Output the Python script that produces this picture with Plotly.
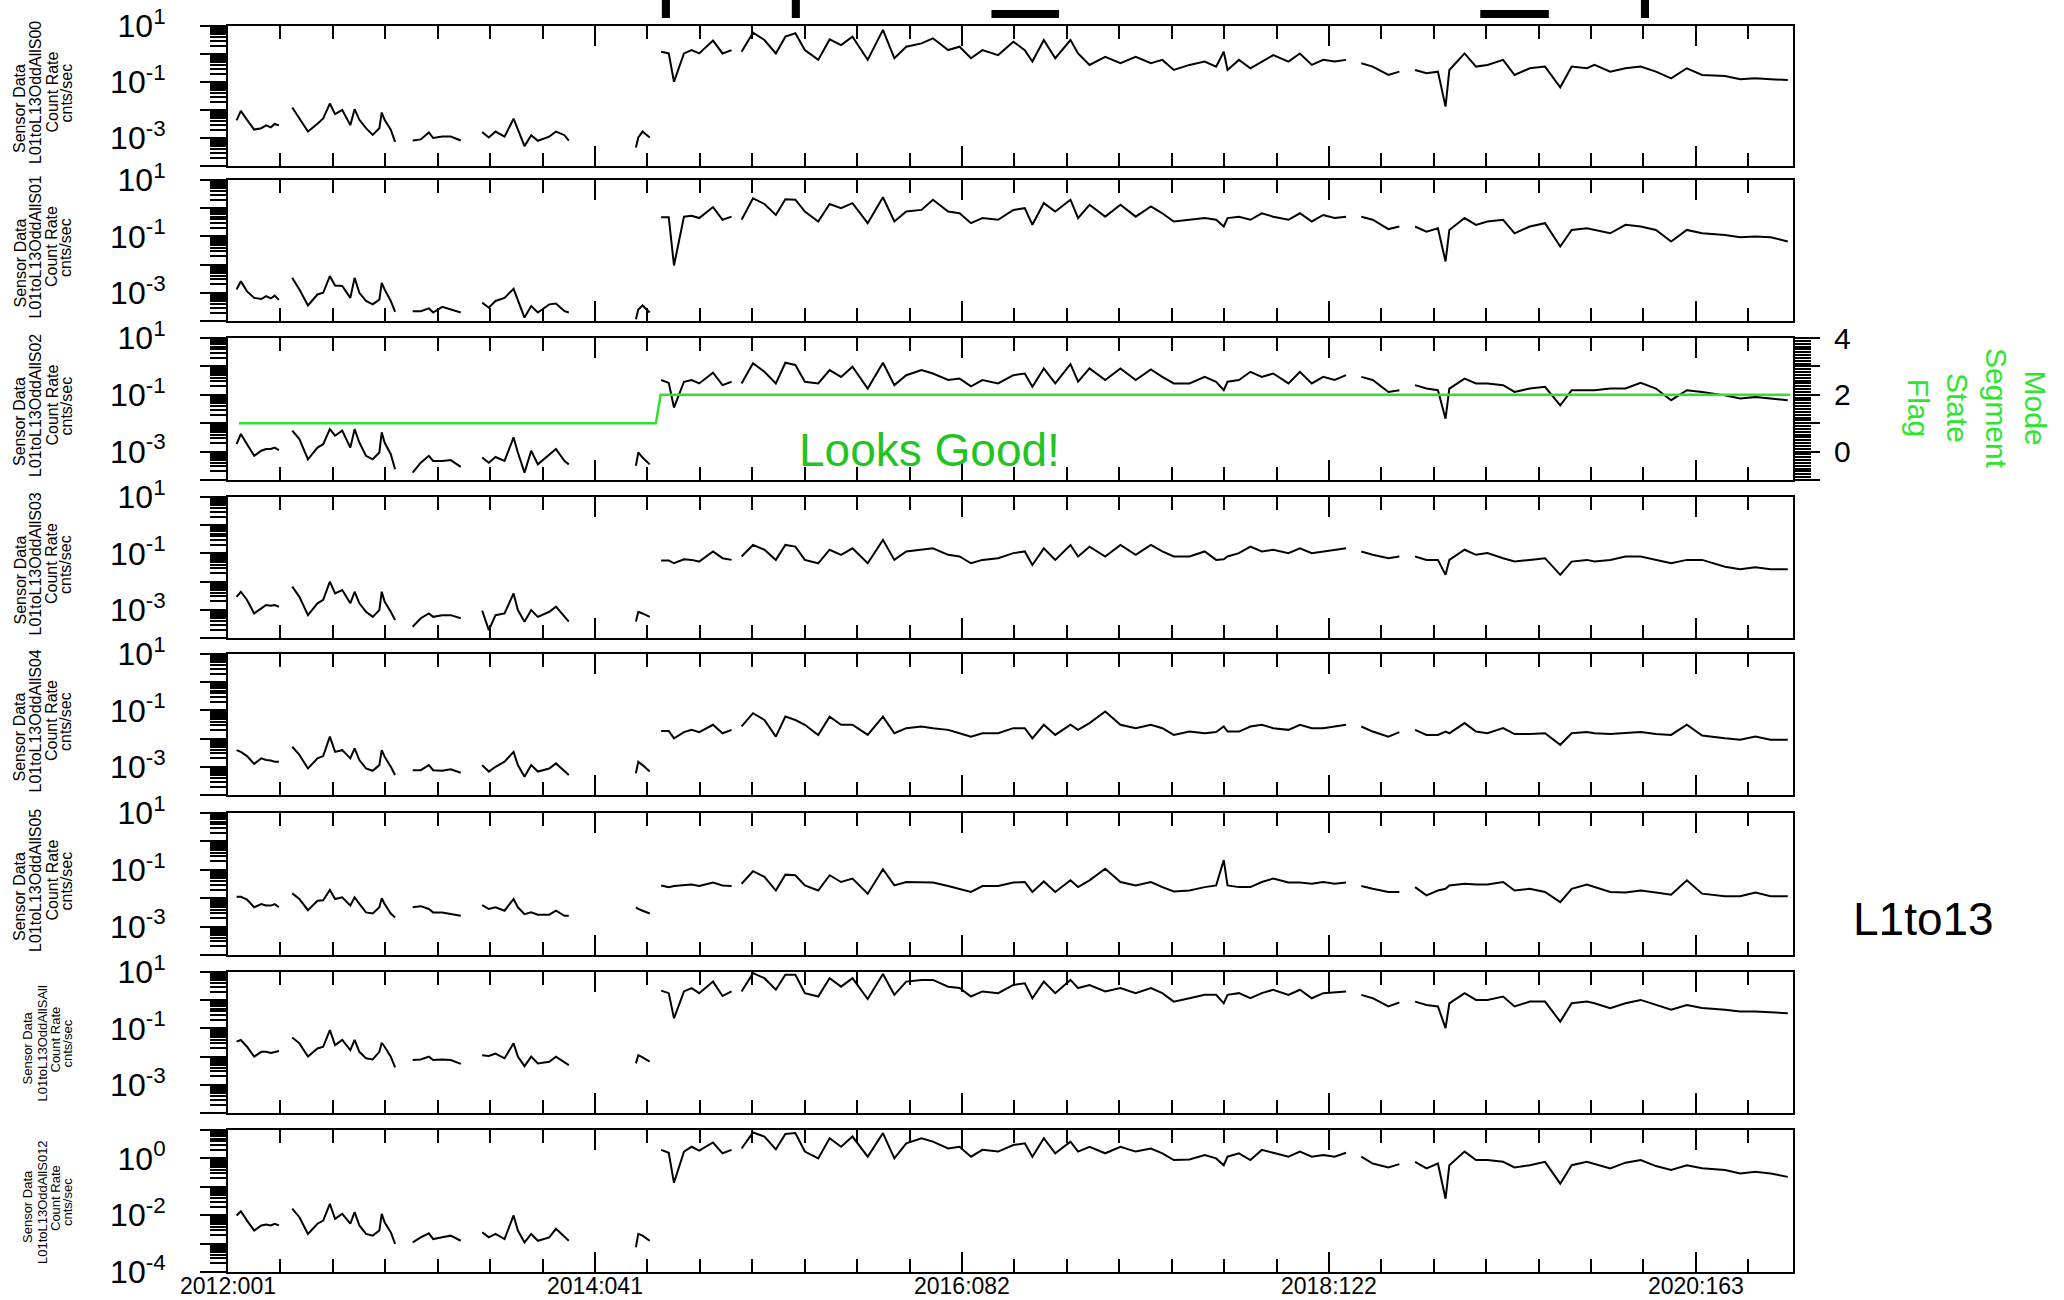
import plotly.graph_objects as go

# x positions: days since 2012-01-01 (2012:001); None in a series breaks the line
DAYS = [
    18, 27, 40, 55, 70, 80, 90, 98, 107, 120,
    135, 150, 168, 188, 200, 214, 225, 240, 257, 266, 276, 290, 304, 318, 323, 329, 342, 351, 370,
    388, 405, 422, 431, 450, 468, 489, 510,
    534, 548, 562, 581, 600, 609, 623, 637, 651, 675, 689, 707, 716, 790,
    857, 862, 871, 886, 898,
    910, 926, 937, 958, 974, 990, 1019, 1039, 1058, 1068,
    1079, 1103, 1127, 1151, 1171, 1192, 1212, 1240, 1264, 1288,
    1312, 1344, 1376, 1400, 1425, 1457, 1481, 1513, 1537, 1561,
    1585, 1618, 1650, 1674, 1690, 1714, 1738, 1770, 1786, 1810,
    1843, 1875, 1907, 1939, 1963, 1987, 2020, 2052, 2076, 2092,
    2100, 2124, 2148, 2172, 2196, 2228, 2252, 2277, 2301, 2325,
    2349, 2365,
    2381, 2405, 2438, 2461, 2478,
    2494, 2518, 2542, 2558, 2566, 2598, 2622, 2646, 2679, 2703,
    2735, 2767, 2799, 2823, 2855, 2871, 2904, 2936, 2968, 3000,
    3032, 3065, 3097, 3145, 3177, 3209, 3241, 3277,
]

# log10 of count rate (cnts/sec), one list per sensor panel
LOG_S00 = [
    -2.37, -2.03, -2.35, -2.70, -2.65, -2.55, -2.62, -2.50, -2.55, None,
    -1.91, -2.30, -2.77, -2.49, -2.30, -1.77, -2.15, -2.00, -2.54, -1.97, -2.35, -2.65, -2.89, -2.65, -2.09, -2.35, -2.70, -3.14, None,
    -3.09, -3.05, -2.80, -3.00, -2.95, -2.95, -3.09, None,
    -2.79, -2.98, -2.77, -2.95, -2.31, -2.72, -3.29, -2.90, -3.10, -2.95, -2.77, -2.90, -3.09, None,
    -3.34, -2.98, -2.77, -2.98, None,
    0.08, 0.02, -0.99, 0.02, 0.14, 0.02, 0.48, 0.02, 0.14, None,
    0.08, 0.76, 0.50, 0.02, 0.62, 0.74, 0.14, -0.21, 0.52, 0.32,
    0.62, -0.21, 0.86, -0.15, 0.26, 0.38, 0.56, 0.14, 0.26, -0.15,
    0.14, -0.04, 0.44, 0.14, -0.27, 0.50, -0.15, 0.50, 0.02, -0.39,
    -0.10, -0.33, -0.10, -0.33, -0.21, -0.57, -0.39, -0.27, -0.45, 0.08,
    -0.57, -0.21, -0.51, -0.27, -0.04, -0.27, 0.02, -0.39, -0.21, -0.27,
    -0.21, None,
    -0.33, -0.45, -0.75, -0.63, None,
    -0.57, -0.69, -0.63, -1.88, -0.57, 0.02, -0.45, -0.39, -0.21, -0.75,
    -0.51, -0.45, -1.19, -0.45, -0.51, -0.39, -0.63, -0.51, -0.45, -0.63,
    -0.87, -0.51, -0.75, -0.79, -0.90, -0.87, -0.90, -0.93,
]

LOG_S01 = [
    -2.88, -2.59, -2.95, -3.18, -3.22, -3.12, -3.20, -3.10, -3.25, None,
    -2.47, -2.88, -3.45, -3.06, -3.00, -2.41, -2.74, -2.76, -3.18, -2.47, -3.00, -3.29, -3.41, -3.24, -2.65, -2.88, -3.29, -3.68, None,
    -3.65, -3.65, -3.55, -3.70, -3.50, -3.60, -3.70, None,
    -3.35, -3.53, -3.29, -3.18, -2.86, -3.29, -3.88, -3.47, -3.70, -3.41, -3.38, -3.65, -3.70, None,
    -3.94, -3.59, -3.45, -3.70, None,
    -0.32, -0.32, -2.03, -0.30, -0.27, -0.35, 0.04, -0.41, -0.30, None,
    -0.41, 0.35, 0.15, -0.24, 0.32, 0.30, -0.12, -0.47, 0.15, 0.00,
    0.18, -0.53, 0.39, -0.47, -0.12, -0.06, 0.30, -0.12, -0.18, -0.53,
    -0.35, -0.41, -0.06, 0.00, -0.59, 0.18, -0.12, 0.30, -0.35, 0.12,
    -0.30, 0.12, -0.30, 0.06, -0.18, -0.47, -0.41, -0.35, -0.41, -0.65,
    -0.35, -0.30, -0.41, -0.18, -0.30, -0.41, -0.18, -0.47, -0.24, -0.35,
    -0.30, None,
    -0.30, -0.41, -0.74, -0.65, None,
    -0.65, -0.83, -0.71, -1.89, -0.77, -0.35, -0.59, -0.47, -0.41, -0.89,
    -0.65, -0.53, -1.36, -0.77, -0.71, -0.77, -0.89, -0.59, -0.65, -0.77,
    -1.18, -0.77, -0.89, -0.95, -1.03, -1.00, -1.03, -1.18,
]

LOG_S02 = [
    -2.74, -2.38, -2.74, -3.15, -2.97, -2.91, -2.91, -2.86, -2.95, None,
    -2.26, -2.56, -3.27, -2.86, -2.74, -2.21, -2.44, -2.26, -2.86, -2.21, -2.68, -3.15, -3.27, -3.03, -2.32, -2.68, -3.09, -3.62, None,
    -3.74, -3.39, -3.15, -3.33, -3.33, -3.30, -3.54, None,
    -3.21, -3.39, -3.19, -3.33, -2.50, -3.03, -3.74, -2.97, -3.45, -3.09, -2.91, -3.33, -3.45, None,
    -3.50, -3.03, -3.21, -3.45, None,
    -0.48, -0.58, -1.45, -0.54, -0.48, -0.60, -0.22, -0.66, -0.54, None,
    -0.60, 0.11, -0.19, -0.60, 0.13, 0.05, -0.54, -0.60, -0.13, -0.37,
    -0.01, -0.78, 0.13, -0.66, -0.31, -0.13, -0.25, -0.48, -0.43, -0.70,
    -0.48, -0.60, -0.31, -0.25, -0.72, -0.07, -0.60, 0.08, -0.54, -0.07,
    -0.48, -0.07, -0.48, -0.11, -0.37, -0.60, -0.60, -0.37, -0.54, -0.84,
    -0.54, -0.48, -0.19, -0.37, -0.25, -0.60, -0.19, -0.60, -0.37, -0.48,
    -0.31, None,
    -0.37, -0.48, -0.90, -0.84, None,
    -0.66, -0.78, -0.84, -1.84, -0.78, -0.43, -0.60, -0.60, -0.66, -0.90,
    -0.78, -0.72, -1.37, -0.84, -0.84, -0.84, -0.78, -0.78, -0.58, -0.78,
    -1.19, -0.84, -0.90, -1.02, -1.13, -1.08, -1.13, -1.19,
]

LOG_S03 = [
    -2.54, -2.36, -2.65, -3.13, -2.95, -2.83, -2.86, -2.83, -2.89, None,
    -2.18, -2.54, -3.19, -2.77, -2.65, -2.00, -2.42, -2.30, -2.77, -2.36, -2.77, -3.07, -3.25, -3.01, -2.36, -2.71, -3.07, -3.36, None,
    -3.60, -3.30, -3.13, -3.25, -3.19, -3.19, -3.30, None,
    -3.03, -3.72, -3.19, -3.13, -2.42, -3.01, -3.42, -3.01, -3.25, -3.07, -2.89, -3.25, -3.42, None,
    -3.42, -3.07, -3.13, -3.25, None,
    -1.25, -1.25, -1.35, -1.21, -1.23, -1.29, -0.93, -1.17, -1.23, None,
    -1.11, -0.70, -0.87, -1.23, -0.70, -0.76, -1.23, -1.35, -0.87, -1.05,
    -0.82, -1.35, -0.52, -1.23, -0.93, -0.87, -0.82, -1.05, -1.11, -1.35,
    -1.23, -1.17, -0.99, -0.93, -1.41, -0.82, -1.23, -0.70, -1.11, -0.76,
    -1.11, -0.70, -1.05, -0.70, -0.93, -1.11, -1.11, -0.93, -1.23, -1.21,
    -1.11, -0.99, -0.76, -0.93, -0.87, -0.99, -0.82, -0.99, -0.93, -0.87,
    -0.82, None,
    -0.93, -1.05, -1.17, -1.11, None,
    -1.11, -1.23, -1.23, -1.76, -1.23, -0.87, -1.05, -0.99, -1.17, -1.29,
    -1.23, -1.17, -1.76, -1.29, -1.23, -1.29, -1.23, -1.11, -1.11, -1.23,
    -1.35, -1.23, -1.23, -1.47, -1.56, -1.49, -1.56, -1.56,
]

LOG_S04 = [
    -2.41, -2.47, -2.62, -2.90, -2.70, -2.76, -2.78, -2.82, -2.82, None,
    -2.29, -2.58, -3.06, -2.70, -2.62, -1.93, -2.47, -2.41, -2.70, -2.35, -2.76, -3.06, -3.14, -2.94, -2.41, -2.64, -3.00, -3.29, None,
    -3.12, -3.12, -2.94, -3.12, -3.14, -3.09, -3.21, None,
    -2.94, -3.17, -3.00, -2.82, -2.47, -2.94, -3.35, -2.94, -3.17, -3.06, -2.88, -3.17, -3.29, None,
    -3.23, -2.82, -2.94, -3.17, None,
    -1.73, -1.73, -1.99, -1.77, -1.69, -1.77, -1.51, -1.81, -1.69, None,
    -1.57, -1.10, -1.34, -1.93, -1.22, -1.34, -1.51, -1.87, -1.22, -1.51,
    -1.51, -1.87, -1.22, -1.81, -1.63, -1.57, -1.63, -1.69, -1.81, -1.93,
    -1.81, -1.81, -1.63, -1.63, -1.99, -1.51, -1.87, -1.51, -1.69, -1.45,
    -1.04, -1.51, -1.63, -1.51, -1.63, -1.87, -1.75, -1.81, -1.77, -1.57,
    -1.75, -1.75, -1.57, -1.51, -1.63, -1.69, -1.51, -1.63, -1.63, -1.57,
    -1.51, None,
    -1.57, -1.75, -1.93, -1.77, None,
    -1.69, -1.87, -1.87, -1.75, -1.81, -1.45, -1.75, -1.81, -1.63, -1.84,
    -1.84, -1.81, -2.22, -1.81, -1.77, -1.81, -1.84, -1.81, -1.77, -1.84,
    -1.87, -1.51, -1.89, -1.99, -2.04, -1.93, -2.04, -2.04,
]

LOG_S05 = [
    -1.95, -1.95, -2.05, -2.32, -2.21, -2.26, -2.26, -2.21, -2.32, None,
    -1.83, -2.03, -2.42, -2.09, -2.07, -1.71, -2.03, -1.97, -2.26, -1.97, -2.20, -2.50, -2.54, -2.32, -2.00, -2.20, -2.54, -2.68, None,
    -2.32, -2.28, -2.38, -2.50, -2.50, -2.56, -2.62, None,
    -2.24, -2.38, -2.32, -2.44, -2.03, -2.32, -2.56, -2.50, -2.58, -2.58, -2.44, -2.62, -2.62, None,
    -2.32, -2.38, -2.44, -2.54, None,
    -1.55, -1.61, -1.57, -1.55, -1.52, -1.57, -1.45, -1.55, -1.57, None,
    -1.49, -1.05, -1.25, -1.73, -1.17, -1.19, -1.55, -1.73, -1.19, -1.43,
    -1.31, -1.84, -0.98, -1.55, -1.43, -1.45, -1.45, -1.57, -1.67, -1.78,
    -1.57, -1.57, -1.45, -1.43, -1.78, -1.41, -1.78, -1.37, -1.61, -1.37,
    -0.96, -1.43, -1.55, -1.43, -1.61, -1.76, -1.73, -1.61, -1.55, -0.66,
    -1.55, -1.61, -1.61, -1.43, -1.31, -1.45, -1.45, -1.49, -1.43, -1.49,
    -1.45, None,
    -1.57, -1.67, -1.78, -1.78, None,
    -1.61, -1.90, -1.73, -1.67, -1.55, -1.49, -1.52, -1.52, -1.43, -1.73,
    -1.67, -1.78, -2.14, -1.67, -1.52, -1.61, -1.78, -1.80, -1.73, -1.80,
    -1.88, -1.37, -1.84, -1.93, -1.93, -1.80, -1.93, -1.93,
]

LOG_SALL = [
    -1.47, -1.41, -1.65, -2.00, -1.83, -1.83, -1.87, -1.83, -1.80, None,
    -1.32, -1.53, -2.00, -1.71, -1.65, -1.06, -1.59, -1.41, -1.77, -1.41, -1.83, -2.06, -2.10, -1.83, -1.51, -1.65, -2.00, -2.38, None,
    -2.12, -2.10, -2.00, -2.12, -2.10, -2.12, -2.26, None,
    -1.95, -1.98, -1.89, -2.06, -1.53, -2.00, -2.34, -2.00, -2.24, -2.18, -2.00, -2.21, -2.30, None,
    -2.24, -1.95, -2.03, -2.18, None,
    0.34, 0.25, -0.64, 0.31, 0.43, 0.25, 0.66, 0.15, 0.31, None,
    0.31, 0.96, 0.78, 0.37, 0.90, 0.90, 0.25, 0.13, 0.78, 0.48,
    0.78, 0.04, 0.93, 0.19, 0.66, 0.72, 0.72, 0.48, 0.43, 0.13,
    0.31, 0.25, 0.54, 0.60, 0.07, 0.66, 0.25, 0.72, 0.43, 0.54,
    0.31, 0.43, 0.25, 0.43, 0.25, -0.05, 0.07, 0.19, 0.19, -0.11,
    0.19, 0.25, 0.07, 0.25, 0.37, 0.19, 0.37, 0.07, 0.25, 0.27,
    0.31, None,
    0.19, 0.07, -0.22, -0.08, None,
    -0.05, -0.17, -0.22, -0.99, -0.11, 0.25, 0.01, 0.01, 0.13, -0.22,
    -0.05, -0.05, -0.76, -0.11, -0.05, -0.11, -0.28, -0.11, 0.01, -0.17,
    -0.34, -0.17, -0.28, -0.34, -0.40, -0.40, -0.44, -0.46,
]

LOG_S012 = [
    -2.01, -1.86, -2.19, -2.54, -2.36, -2.33, -2.36, -2.30, -2.36, None,
    -1.77, -2.07, -2.66, -2.30, -2.19, -1.60, -2.13, -1.95, -2.30, -1.89, -2.36, -2.66, -2.72, -2.54, -1.95, -2.25, -2.60, -3.01, None,
    -2.96, -2.78, -2.64, -2.84, -2.78, -2.72, -2.90, None,
    -2.60, -2.78, -2.66, -2.84, -2.01, -2.54, -2.96, -2.66, -2.90, -2.78, -2.48, -2.78, -2.90, None,
    -3.13, -2.66, -2.72, -2.90, None,
    0.30, 0.20, -0.86, 0.24, 0.41, 0.27, 0.56, 0.18, 0.30, None,
    0.35, 0.91, 0.77, 0.32, 0.86, 0.89, 0.24, 0.00, 0.71, 0.41,
    0.77, 0.06, 0.89, 0.00, 0.53, 0.71, 0.59, 0.35, 0.41, 0.06,
    0.30, 0.24, 0.47, 0.53, 0.06, 0.71, 0.18, 0.59, 0.24, 0.41,
    0.18, 0.41, 0.24, 0.35, 0.18, -0.06, -0.04, 0.12, 0.00, -0.24,
    0.06, 0.18, -0.06, 0.30, 0.20, 0.06, 0.24, 0.06, 0.12, 0.06,
    0.20, None,
    0.06, -0.18, -0.32, -0.20, None,
    -0.12, -0.35, -0.18, -1.42, -0.24, 0.24, -0.06, -0.06, -0.12, -0.32,
    -0.24, -0.12, -0.89, -0.24, -0.12, -0.20, -0.35, -0.15, -0.06, -0.27,
    -0.41, -0.24, -0.35, -0.41, -0.53, -0.47, -0.53, -0.65,
]

PANEL_SERIES = [LOG_S00, LOG_S01, LOG_S02, LOG_S03, LOG_S04, LOG_S05, LOG_SALL, LOG_S012]
PANEL_NAMES = ["L01toL13OddAllS00", "L01toL13OddAllS01", "L01toL13OddAllS02", "L01toL13OddAllS03",
               "L01toL13OddAllS04", "L01toL13OddAllS05", "L01toL13OddAllSAll", "L01toL13OddAllS012"]

# Mode segment state flag (right axis of the third panel)
MODE_DAYS = [23, 899, 909, 3282]
MODE_FLAG = [1, 1, 2, 2]

# markers along the top edge
EVENT_DAYS = [920, 1193, 2977]
EVENT_SPANS = [(1604, 1746), (2631, 2775)]

MAJOR_DAYS = [0, 771, 1542, 2313, 3084]
MAJOR_LABELS = ["2012:001", "2014:041", "2016:082", "2018:122", "2020:163"]
MINOR_DAYS = [k * 771 / 7 for k in range(1, 30) if k % 7]
DAY_END = 3288

W, H = 2064, 1300
X0, X1 = 228, 1793
PANEL_TOP = [26, 180, 338, 497, 654, 813, 972, 1130]
PANEL_BOT = [166, 321, 480, 638, 795, 955, 1113, 1272]
FONT = "Liberation Sans, Arial, sans-serif"
NARROW = "Liberation Sans Narrow, Arial Narrow, Liberation Sans, Arial"
GREEN = "#33dd33"

for s in PANEL_SERIES:
    if len(s) != len(DAYS):
        raise ValueError("series length mismatch: %d vs %d" % (len(s), len(DAYS)))

fig = go.Figure()
layout = dict(template="none", width=W, height=H, margin=dict(l=0, r=0, t=0, b=0, pad=0),
              paper_bgcolor="white", plot_bgcolor="white", showlegend=False,
              font=dict(family=FONT, color="black"))

log_major = [10, 1, 0.1, 0.01, 0.001, 0.0001]
log_minor = [k * 10.0 ** d for d in range(-4, 1) for k in range(2, 10)]
odd_labels = ["10<sup>1</sup>", "", "10<sup>-1</sup>", "", "10<sup>-3</sup>", ""]
even_labels = ["", "10<sup>0</sup>", "", "10<sup>-2</sup>", "", "10<sup>-4</sup>"]

annotations = []
for i, (series, name) in enumerate(zip(PANEL_SERIES, PANEL_NAMES)):
    n = i + 1
    y = [None if v is None else 10 ** v for v in series]
    fig.add_trace(go.Scatter(x=DAYS, y=y, xaxis="x%d" % n, yaxis="y%d" % n, mode="lines",
                             line=dict(color="black", width=2), connectgaps=False,
                             hoverinfo="skip"))
    top, bot = PANEL_TOP[i], PANEL_BOT[i]
    layout["xaxis%d" % n] = dict(
        domain=[X0 / W, X1 / W], anchor="y%d" % n, range=[0, DAY_END], automargin=False,
        tickmode="array", tickvals=MAJOR_DAYS, ticktext=MAJOR_LABELS,
        showticklabels=(n == 8), tickfont=dict(size=23), ticklabelstandoff=-8,
        ticks="inside", ticklen=20, tickwidth=2, tickcolor="black",
        minor=dict(tickmode="array", tickvals=MINOR_DAYS, ticks="inside", ticklen=13,
                   tickwidth=2, tickcolor="black"),
        showline=True, linewidth=2, linecolor="black", mirror="ticks",
        showgrid=False, zeroline=False)
    layout["yaxis%d" % n] = dict(
        domain=[1 - bot / H, 1 - top / H], anchor="x%d" % n, type="log", range=[-4, 1],
        automargin=False, tickmode="array", tickvals=log_major,
        ticktext=even_labels if n == 8 else odd_labels,
        tickfont=dict(size=32), ticklabelstandoff=28,
        ticks="outside", ticklen=26, tickwidth=2, tickcolor="black",
        minor=dict(tickmode="array", tickvals=log_minor, ticks="outside", ticklen=16,
                   tickwidth=2, tickcolor="black"),
        showline=True, linewidth=2, linecolor="black", mirror=True,
        showgrid=False, zeroline=False)

    # stacked y-axis title lines
    mid = (top + bot) / 2
    if n <= 6:
        cols, size = [19.5, 35, 51.5, 65.5], 16
        lines = [("Sensor Data", mid + 59, "bottom"), (name, mid - 3, "middle"),
                 ("Count Rate", mid - 4, "middle"), ("cnts/sec", mid - 3, "middle")]
    else:
        cols, size = [27, 42, 55, 67], 13
        lines = [("Sensor Data", mid + 6, "middle"), (name, mid + 1, "middle"),
                 ("Count Rate", mid - 3, "middle"), ("cnts/sec", mid + 1, "middle")]
    for cx, (txt, cy, ya) in zip(cols, lines):
        annotations.append(dict(text=txt, x=cx / W, y=1 - cy / H, xref="paper", yref="paper",
                                xanchor="center", yanchor=ya, textangle=-90, showarrow=False,
                                font=dict(family=NARROW, size=size, color="black")))

# mode flag on the right of panel 3
fig.add_trace(go.Scatter(x=MODE_DAYS, y=MODE_FLAG, xaxis="x3", yaxis="y9", mode="lines",
                         line=dict(color=GREEN, width=2.5), hoverinfo="skip"))
layout["yaxis9"] = dict(
    overlaying="y3", anchor="x3", side="right", range=[-1, 4], automargin=False,
    tickmode="array", tickvals=[-1, 0, 1, 2, 3, 4], ticktext=["", "0", "", "2", "", "4"],
    tickfont=dict(size=30), ticklabelstandoff=8,
    ticks="outside", ticklen=25, tickwidth=2, tickcolor="black",
    minor=dict(dtick=0.1, ticks="outside", ticklen=16, tickwidth=2, tickcolor="black"),
    showline=True, linewidth=2, linecolor="black", showgrid=False, zeroline=False)

annotations += [
    dict(text="Looks Good!", x=929 / W, y=1 - 450 / H, xref="paper", yref="paper",
         xanchor="center", yanchor="middle", showarrow=False,
         font=dict(size=46, color="#22c322")),
    dict(text="Mode<br>Segment<br>State<br>Flag", x=1977 / W, y=1 - 408 / H, xref="paper",
         yref="paper", xanchor="center", yanchor="middle", showarrow=False, textangle=90,
         font=dict(size=30, color="#2ee52e")),
    dict(text="L1to13", x=1923 / W, y=1 - 919 / H, xref="paper", yref="paper",
         xanchor="center", yanchor="middle", showarrow=False,
         font=dict(size=46, color="black")),
]
layout["annotations"] = annotations

shapes = []
for d in EVENT_DAYS:
    shapes.append(dict(type="rect", xref="x", yref="paper", x0=d - 8.5, x1=d + 8.5,
                       y0=1 - 18 / H, y1=1, fillcolor="black", line=dict(width=0)))
for a, b in EVENT_SPANS:
    shapes.append(dict(type="rect", xref="x", yref="paper", x0=a, x1=b,
                       y0=1 - 18 / H, y1=1 - 10 / H, fillcolor="black", line=dict(width=0)))
layout["shapes"] = shapes

fig.update_layout(**layout)
# drop the browser's default body margin so the figure fills the window exactly
fig.write_html("out.html", config={"displayModeBar": False},
               post_script="document.body.style.margin = '0';")
